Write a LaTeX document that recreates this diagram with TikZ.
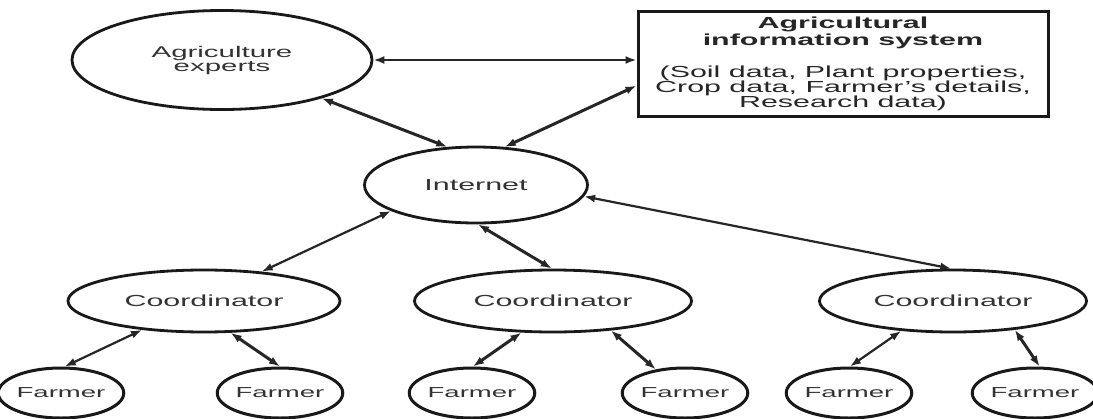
\documentclass[tikz,border=0pt]{standalone}
\usepackage{fontspec}
\setmainfont{Liberation Sans}[FakeStretch=1.9]
\usetikzlibrary{shapes.geometric,arrows.meta}
\begin{document}
\begin{tikzpicture}[x=1pt,y=-1pt,
  ell/.style={draw=black!90, line width=2.8pt, ellipse, inner sep=0pt, text=black!80},
  box/.style={draw=black!90, line width=3pt, rectangle, inner sep=0pt, text=black!85,
              minimum width=410pt, minimum height=105pt, align=center},
  conn/.style={draw=black!85, line width=2.2pt,
               {Latex[length=11pt,width=8pt]}-{Latex[length=11pt,width=8pt]}},
  connb/.style={conn, line width=3pt},
  lblexp/.style={font=\fontsize{15.5}{14}\selectfont, align=center},
  lblint/.style={font=\fontsize{16}{16}\selectfont},
  lblco/.style={font=\fontsize{16}{16}\selectfont},
  lblfa/.style={font=\fontsize{14.5}{14}\selectfont}]
\useasboundingbox (0,0) rectangle (1093,418);
\fill[white] (0,0) rectangle (1093,418);

% top nodes
\node[ell, lblexp, minimum width=300pt, minimum height=99pt] (exp) at (222,60) {Agriculture\\experts};
\node[box, font=\fontsize{16}{15}\selectfont] (ais) at (843,64)
  {\textbf{Agricultural}\\[2pt]\textbf{information system}\\[17pt](Soil data, Plant properties,\\Crop data, Farmer's details,\\Research data)};
\node[ell, lblint, minimum width=223pt, minimum height=76pt] (int) at (476,185) {Internet};

% coordinators
\node[ell, lblco, minimum width=272pt, minimum height=62pt] (cL) at (204,301) {Coordinator};
\node[ell, lblco, minimum width=277pt, minimum height=62pt] (cM) at (553,301) {Coordinator};
\node[ell, lblco, minimum width=267pt, minimum height=62pt] (cR) at (953,301) {Coordinator};

% farmers
\node[ell, lblfa, line width=3pt, minimum width=98pt,  minimum height=50pt] (f1) at (61,393) {Farmer};
\node[ell, lblfa, line width=3pt, minimum width=110pt, minimum height=50pt] (f2) at (280,393) {Farmer};
\node[ell, lblfa, line width=3pt, minimum width=110pt, minimum height=50pt] (f3) at (472,393) {Farmer};
\node[ell, lblfa, line width=3pt, minimum width=110pt, minimum height=50pt] (f4) at (685,393) {Farmer};
\node[ell, lblfa, line width=3pt, minimum width=108pt, minimum height=50pt] (f5) at (849,393) {Farmer};
\node[ell, lblfa, line width=3pt, minimum width=105pt, minimum height=50pt] (f6) at (1035,393) {Farmer};

% connectors
\draw[conn] (exp.east) -- (exp.east -| ais.west);
\draw[connb] (exp.-21) -- (int.127);
\draw[connb] (ais.186) -- (int.53);
\draw[conn] (int.197) -- (cL.27);
\draw[connb] (int.-87) -- (cM.92);
\draw[conn] (int.-6) -- (cR.93);

\draw[conn] (cL.205) -- (f1.82);
\draw[connb] (cL.-50) -- (f2.90);
\draw[connb] (cM.225) -- (f3.88);
\draw[connb] (cM.-27) -- (f4.141);
\draw[conn] (cR.210) -- (f5.88);
\draw[connb] (cR.-25) -- (f6.80);
\end{tikzpicture}
\end{document}
